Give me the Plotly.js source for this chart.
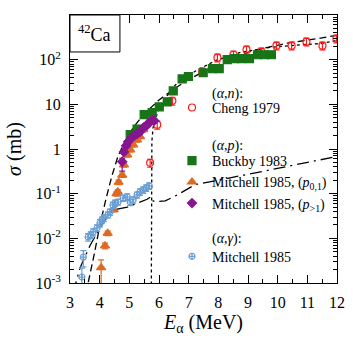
<!DOCTYPE html>
<html>
<head>
<meta charset="utf-8">
<script src="https://cdn.plot.ly/plotly-3.0.1.min.js"></script>
<style>
  html, body { margin: 0; padding: 0; background: #fff; }
  #cs-plot { width: 353px; height: 338px; }
</style>
</head>
<body>
<div id="cs-plot"></div>
<script>
// 42Ca(alpha,x) cross sections (E in MeV, sigma in mb)

// (alpha,n) Cheng 1979
const chengE = [5.70, 5.94, 6.45, 7.46, 7.97, 8.51, 8.95, 9.45, 9.96, 10.47, 10.97, 11.51, 11.98];
const chengSig = [0.49, 3.5, 12, 54, 111, 129, 168, 151, 206, 206, 253, 206, 296];
const chengErr = [0.1, 0.7, 2.4, 11, 22, 26, 34, 30, 41, 41, 50, 41, 59];

// (alpha,p) Buckby 1983
const buckbyE = [5.03, 5.26, 5.50, 5.77, 6.01, 6.28, 6.48, 6.78, 6.99, 7.49, 7.80, 8.03, 8.30, 8.54, 8.78, 9.05, 9.32, 9.55, 9.79];
const buckbySig = [2.1, 2.8, 5.9, 6.5, 8.8, 11.4, 20, 37, 42, 51, 63, 63, 100, 105, 105, 105, 129, 129, 129];
const buckbyErr = [0.3, 0.4, 0.8, 0.9, 1.2, 1.6, 3, 5, 6, 7, 9, 9, 14, 15, 15, 15, 18, 18, 18];

// (alpha,p) Mitchell 1985, p0,1
const mitchP01E = [4.05, 4.18, 4.27, 4.47, 4.57, 4.61, 4.64, 4.76, 4.82, 4.93, 5.03, 5.13, 5.26, 5.36, 5.47, 5.57, 5.67, 5.77];
const mitchP01Sig = [0.0022, 0.0068, 0.013, 0.044, 0.10, 0.11, 0.18, 0.26, 0.44, 0.74, 0.96, 1.24, 1.6, 1.9, 2.7, 3.5, 4.1, 4.6];
const mitchP01ErrUp = [0.0011, 0.001, 0.0015, 0.005, 0.012, 0.013, 0.02, 0.03, 0.05, 0.08, 0.1, 0.13, 0.17, 0.2, 0.3, 0.4, 0.45, 0.5];
const mitchP01ErrDn = [0.0015, 0.001, 0.0015, 0.005, 0.012, 0.013, 0.02, 0.03, 0.05, 0.08, 0.1, 0.13, 0.17, 0.2, 0.3, 0.4, 0.45, 0.5];

// (alpha,p) Mitchell 1985, p>1
const mitchP2E = [4.76, 4.82, 4.89, 4.96, 5.06, 5.16, 5.26, 5.36, 5.47, 5.57, 5.67, 5.77, 5.84];
const mitchP2Sig = [0.52, 0.86, 1.18, 1.45, 1.78, 1.98, 2.19, 2.43, 3.0, 3.3, 3.9, 4.5, 4.3];
const mitchP2ErrUp = [0.1, 0.1, 0.14, 0.17, 0.2, 0.22, 0.25, 0.27, 0.33, 0.36, 0.42, 0.5, 0.47];
const mitchP2ErrDn = [0.2, 0.1, 0.14, 0.17, 0.2, 0.22, 0.25, 0.27, 0.33, 0.36, 0.42, 0.5, 0.47];

// (alpha,gamma) Mitchell 1985
const mitchGamE = [3.40, 3.45, 3.61, 3.70, 3.78, 3.91, 4.01, 4.08, 4.14, 4.28, 4.35, 4.45, 4.52, 4.62, 4.79, 4.93, 5.03, 5.13, 5.26, 5.36, 5.47, 5.57, 5.67];
const mitchGamSig = [0.00136, 0.0038, 0.0107, 0.0119, 0.0139, 0.0171, 0.0221, 0.0259, 0.0287, 0.0335, 0.039, 0.056, 0.062, 0.065, 0.080, 0.085, 0.065, 0.073, 0.094, 0.110, 0.122, 0.135, 0.150];
const mitchGamErr = [0.0008, 0.0015, 0.002, 0.002, 0.0025, 0.003, 0.004, 0.004, 0.005, 0.005, 0.006, 0.009, 0.01, 0.01, 0.013, 0.014, 0.011, 0.012, 0.015, 0.018, 0.02, 0.022, 0.025];

// model curves
const curvePE = [3.55, 3.61, 3.81, 4.01, 4.22, 4.42, 4.62, 4.86, 5.13, 5.43, 5.77, 6.0, 6.5, 7.0, 7.5, 8.07, 8.61, 9.18, 10.33, 11.45, 12.0];
const curvePSig = [0.0006, 0.001, 0.0042, 0.020, 0.08, 0.26, 0.70, 1.5, 3.0, 5.4, 9.0, 12.5, 22, 36, 54, 80, 118, 160, 235, 305, 350];

const curveNE = [5.74, 5.74, 5.76, 5.80, 5.87, 6.04, 6.55, 7.22, 7.9, 8.74, 9.76, 10.77, 11.45, 12.0];
const curveNSig = [0.0005, 0.4, 1.5, 3.0, 4.5, 9.8, 27, 55, 95, 145, 190, 215, 229, 270];

const curveGE = [3.1, 3.34, 3.68, 4.01, 4.35, 4.6, 4.93, 5.30, 5.6, 5.72, 5.78, 5.87, 6.21, 6.61, 7.22, 8.0, 9.0, 10.67, 11.55, 12.0];
const curveGSig = [0.0006, 0.0022, 0.007, 0.017, 0.037, 0.045, 0.050, 0.062, 0.075, 0.085, 0.07, 0.066, 0.069, 0.093, 0.16, 0.2, 0.27, 0.45, 0.58, 0.68];

const yTickVals = [0.001, 0.01, 0.1, 1, 10, 100];
const yTickText = ['10<sup>-3</sup>', '10<sup>-2</sup>', '10<sup>-1</sup>', '1', '10', '10<sup>2</sup>'];

const serif = 'Liberation Serif, Times New Roman, serif';

function line(x, y, dash) {
    return {
        x: x, y: y, type: 'scatter', mode: 'lines', showlegend: false,
        hoverinfo: 'skip',
        line: { color: 'black', width: 1.3, dash: dash },
    };
}

function points(name, group, x, y, up, dn, symbol, color, size) {
    return {
        x: x, y: y, name: name, legendgroup: group,
        type: 'scatter', mode: 'markers',
        marker: { symbol: symbol, color: color, size: size, line: { color: color, width: 1.2 } },
        error_y: { type: 'data', array: up, arrayminus: dn, symmetric: false, color: color, thickness: 1.2, width: 3 },
    };
}

const data = [
    line(curvePE, curvePSig, '7px,4px'),
    line(curveNE, curveNSig, 'dot'),
    line(curveGE, curveGSig, '12px,5px,2px,5px'),
    points('Cheng 1979', 'n', chengE, chengSig, chengErr, chengErr, 'circle-open', '#ff1a1a', 7),
    points('Buckby 1983', 'p', buckbyE, buckbySig, buckbyErr, buckbyErr, 'square', '#177417', 8),
    points('Mitchell 1985, (<i>p</i><sub>0,1</sub>)', 'p', mitchP01E, mitchP01Sig, mitchP01ErrUp, mitchP01ErrDn, 'triangle-up', '#dd6a22', 8),
    points('Mitchell 1985, (<i>p</i><sub>>1</sub>)', 'p', mitchP2E, mitchP2Sig, mitchP2ErrUp, mitchP2ErrDn, 'diamond', '#86168f', 7),
    points('Mitchell 1985', 'g', mitchGamE, mitchGamSig, mitchGamErr, mitchGamErr, 'circle-cross-open', '#6a9fd4', 6),
];

function header(y, text) {
    return { xref: 'paper', yref: 'paper', x: 0.524, y: y, xanchor: 'left', yanchor: 'middle',
             text: text, showarrow: false, font: { family: serif, size: 14 } };
}

const layout = {
    width: 353,
    height: 338,
    margin: { l: 70, r: 16, t: 15, b: 55 },
    paper_bgcolor: 'white',
    plot_bgcolor: 'white',
    font: { family: serif, size: 16, color: 'black' },
    showlegend: true,
    legend: {
        x: 0.382, y: 0.713, xanchor: 'left', yanchor: 'top',
        bgcolor: 'rgba(0,0,0,0)', borderwidth: 0,
        font: { family: serif, size: 14, color: 'black' },
        traceorder: 'grouped', tracegroupgap: 32,
    },
    xaxis: {
        range: [3, 12], dtick: 1, tick0: 3,
        ticks: 'inside', ticklen: 8, tickcolor: 'black',
        showline: true, linecolor: 'black', linewidth: 1, mirror: 'ticks',
        showgrid: false, zeroline: false, ticklabelstandoff: 5,
        minor: { dtick: 0.5, ticks: 'inside', ticklen: 4, tickcolor: 'black', showgrid: false },
        title: { text: '<i>E</i><sub>α</sub> (MeV)', font: { family: serif, size: 20 }, standoff: 3 },
    },
    yaxis: {
        type: 'log', range: [-3, 3],
        tickmode: 'array', tickvals: yTickVals, ticktext: yTickText,
        ticks: 'inside', ticklen: 8, tickcolor: 'black',
        showline: true, linecolor: 'black', linewidth: 1, mirror: 'ticks',
        showgrid: false, zeroline: false, ticklabelstandoff: 5,
        minor: { dtick: 'D1', ticks: 'inside', ticklen: 4, tickcolor: 'black', showgrid: false },
        title: { text: '<i>σ</i> (mb)', font: { family: serif, size: 20 }, standoff: 8 },
    },
    shapes: [
        { type: 'rect', xref: 'paper', yref: 'paper', x0: 0, x1: 0.187, y0: 0.862, y1: 1,
          line: { color: 'black', width: 1 }, fillcolor: 'white' },
    ],
    annotations: [
        { xref: 'paper', yref: 'paper', x: 0.0935, y: 0.931, xanchor: 'center', yanchor: 'middle',
          text: '<sup>42</sup>Ca', showarrow: false, font: { family: serif, size: 18 } },
        header(0.705, '(<i>α</i>,<i>n</i>):'),
        header(0.511, '(<i>α</i>,<i>p</i>):'),
        header(0.164, '(<i>α</i>,<i>γ</i>):'),
    ],
};

Plotly.newPlot('cs-plot', data, layout, { displayModeBar: false, staticPlot: true });
</script>
</body>
</html>
